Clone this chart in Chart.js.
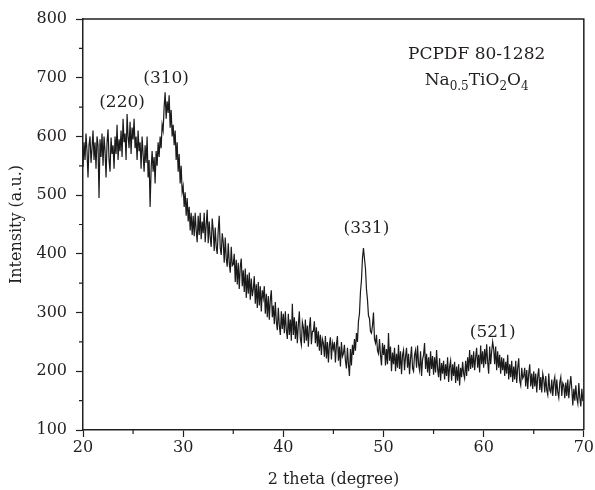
<!DOCTYPE html>
<html>
<head>
<meta charset="utf-8">
<script src="https://cdn.jsdelivr.net/npm/chart.js@4.4.1/dist/chart.umd.min.js"></script>
<style>
body { margin: 0; background: #fff; }
</style>
</head>
<body>
<canvas id="xrdChart" width="595" height="490"></canvas>
<script>
// scan: 20 -> 70 deg, 0.1 deg step, intensity
var scanStart = 20;
var scanStep = 0.1;

var int20 = [
    548, 590, 560, 605, 575, 530, 585, 600, 555, 580,
    610, 560, 590, 545, 600, 585, 495, 595, 565, 605,
    550, 600, 575, 530, 590, 612, 560, 540, 598, 570,
    585, 545, 600, 570, 620, 560, 595, 575, 610, 565,
    630, 590, 605, 560, 638, 600, 580, 625, 570, 615,
    595, 630, 580, 600, 560, 610, 575, 590, 545, 600,
    570, 540, 585, 555, 600, 530, 560, 480, 545, 575,
    540, 565, 520, 575, 550, 590, 565, 600, 580, 620,
    610, 650, 675, 630, 660, 640, 670, 615, 645, 600,
    620, 585, 610, 560, 590, 540, 570, 520, 550, 505
];
var int30 = [
    515, 480, 505, 465, 495, 455, 480, 440, 470, 432,
    465, 430, 470, 440, 420, 465, 432, 470, 425, 455,
    435, 470, 420, 450, 475, 418, 455, 428, 412, 460,
    440, 405, 445, 412, 400, 440, 465, 410, 398, 435,
    420, 385, 428, 392, 378, 418, 385, 368, 412, 380,
    382, 400, 352, 390, 348, 385, 340, 378, 392, 345,
    372, 335, 375, 325, 365, 332, 368, 322, 358, 328,
    340, 362, 315, 348, 308, 352, 312, 345, 302, 338,
    325, 345, 298, 332, 292, 328, 288, 322, 338, 292,
    312, 280, 318, 285, 270, 308, 278, 262, 302, 272
];
var int40 = [
    298, 265, 302, 270, 255, 298, 262, 288, 252, 315,
    262, 292, 255, 285, 248, 280, 302, 255, 245, 284,
    275, 248, 288, 252, 278, 242, 275, 292, 246, 268,
    268, 285, 248, 275, 242, 268, 235, 262, 228, 255,
    248, 225, 260, 222, 250, 215, 245, 258, 220, 248,
    238, 250, 215, 245, 260, 218, 242, 208, 250, 225,
    230, 245, 218, 205, 240, 212, 192, 238, 210, 245,
    228, 255, 235, 265, 250, 285, 298, 335, 355, 392,
    410, 392, 375, 340, 322, 295, 290, 268, 265, 278,
    300, 255, 248, 262, 235, 230, 255, 228, 210, 248
];
var int50 = [
    228, 245, 210, 238, 212, 265, 218, 242, 200, 232,
    212, 240, 200, 230, 206, 245, 204, 234, 195, 228,
    236, 202, 225, 240, 206, 230, 195, 222, 242, 205,
    200, 228, 236, 206, 244, 212, 202, 234, 192, 220,
    228, 248, 204, 230, 198, 224, 192, 234, 204, 226,
    194, 224, 198, 236, 204, 190, 222, 184, 214, 196,
    218, 186, 212, 192, 224, 182, 208, 218, 184, 212,
    192, 216, 180, 208, 184, 212, 176, 206, 190, 216,
    196, 188, 218, 192, 224, 200, 236, 204, 228, 206,
    234, 202, 224, 240, 206, 228, 198, 244, 212, 234
];
var int60 = [
    206, 238, 212, 246, 216, 196, 242, 212, 234, 250,
    238, 212, 242, 202, 234, 206, 228, 196, 224, 202,
    222, 192, 216, 196, 228, 186, 212, 190, 218, 182,
    208, 186, 218, 180, 206, 222, 184, 176, 206, 188,
    192, 206, 174, 202, 170, 196, 212, 174, 196, 170,
    200, 174, 196, 164, 192, 205, 168, 190, 164, 196,
    186, 164, 192, 168, 160, 196, 168, 164, 186, 158,
    181, 190, 158, 186, 164, 155, 181, 190, 158, 180,
    176, 154, 181, 158, 186, 154, 176, 192, 170, 142,
    170, 150, 176, 154, 145, 180, 154, 140, 170, 150,
    150
];

var peakLabels = ['(220)', '(310)', '(331)', '(521)'];
var peakX = [23.9, 28.3, 48.3, 60.9];
var peakY = [650, 691, 435, 258];

var xTicks = [20, 30, 40, 50, 60, 70];
var yTicks = [100, 200, 300, 400, 500, 600, 700, 800];

var intensity = int20.concat(int30, int40, int50, int60);
var points = intensity.map(function (v, i) {
    return { x: +(scanStart + i * scanStep).toFixed(1), y: v };
});

var serif = "'DejaVu Serif', serif";
var ink = '#231f20';

// minor ticks + top/right frame + annotations
var extras = {
    id: 'extras',
    afterDraw: function (chart) {
        var ctx = chart.ctx;
        var a = chart.chartArea;
        var xs = chart.scales.x, ys = chart.scales.y;
        ctx.save();
        ctx.strokeStyle = ink;
        ctx.lineWidth = 1.5;
        ctx.beginPath();
        ctx.moveTo(a.left, a.top);
        ctx.lineTo(a.right, a.top);
        ctx.lineTo(a.right, a.bottom);
        ctx.stroke();

        ctx.lineWidth = 1.2;
        ctx.beginPath();
        for (var i = 0; i < yTicks.length - 1; i++) {
            var py = ys.getPixelForValue(yTicks[i] + 50);
            ctx.moveTo(a.left - 4, py);
            ctx.lineTo(a.left, py);
        }
        for (var j = 0; j < xTicks.length - 1; j++) {
            var px = xs.getPixelForValue(xTicks[j] + 5);
            ctx.moveTo(px, a.bottom);
            ctx.lineTo(px, a.bottom + 4);
        }
        ctx.stroke();

        ctx.fillStyle = ink;
        ctx.font = '17px ' + serif;
        ctx.textAlign = 'center';
        ctx.textBaseline = 'alphabetic';
        peakLabels.forEach(function (t, k) {
            ctx.fillText(t, xs.getPixelForValue(peakX[k]), ys.getPixelForValue(peakY[k]));
        });

        var cx = xs.getPixelForValue(59.3);
        ctx.fillText('PCPDF 80-1282', cx, ys.getPixelForValue(732));

        // Na0.5TiO2O4 with subscripts
        var parts = [['Na', 0], ['0.5', 1], ['TiO', 0], ['2', 1], ['O', 0], ['4', 1]];
        var big = '17px ' + serif, small = '12px ' + serif;
        var total = 0;
        parts.forEach(function (p) {
            ctx.font = p[1] ? small : big;
            total += ctx.measureText(p[0]).width;
        });
        var base = ys.getPixelForValue(688);
        var sx = cx - total / 2;
        ctx.textAlign = 'left';
        parts.forEach(function (p) {
            ctx.font = p[1] ? small : big;
            ctx.fillText(p[0], sx, p[1] ? base + 5 : base);
            sx += ctx.measureText(p[0]).width;
        });
        ctx.restore();
    }
};

var xrdChart = new Chart(
    document.getElementById('xrdChart'), {
    type: 'line',
    data: {
        datasets: [{
            data: points,
            borderColor: '#1a1a1a',
            borderWidth: 1.2,
            pointRadius: 0,
            tension: 0,
            fill: false
        }]
    },
    options: {
        responsive: false,
        animation: false,
        layout: {
            padding: { top: 19, right: 10, left: 0, bottom: 0 }
        },
        plugins: {
            legend: { display: false },
            tooltip: { enabled: false }
        },
        scales: {
            x: {
                type: 'linear',
                min: 20,
                max: 70,
                afterFit: function (scale) { scale.height = 60; },
                afterBuildTicks: function (scale) {
                    scale.ticks = xTicks.map(function (v) { return { value: v }; });
                },
                ticks: {
                    color: ink,
                    font: { family: serif, size: 16 },
                    padding: 1,
                    maxRotation: 0
                },
                grid: {
                    drawOnChartArea: false,
                    tickLength: 7,
                    tickWidth: 1.2,
                    color: ink
                },
                border: { color: ink, width: 1.5 },
                title: {
                    display: true,
                    text: '2 theta (degree)',
                    color: ink,
                    font: { family: serif, size: 16 },
                    padding: { top: 0, bottom: 1 }
                }
            },
            y: {
                min: 100,
                max: 800,
                afterFit: function (scale) { scale.width = 83; },
                afterBuildTicks: function (scale) {
                    scale.ticks = yTicks.map(function (v) { return { value: v }; });
                },
                ticks: {
                    color: ink,
                    font: { family: serif, size: 16 },
                    padding: 9
                },
                grid: {
                    drawOnChartArea: false,
                    tickLength: 7,
                    tickWidth: 1.2,
                    color: ink
                },
                border: { color: ink, width: 1.5 },
                title: {
                    display: true,
                    text: 'Intensity (a.u.)',
                    color: ink,
                    font: { family: serif, size: 16 },
                    padding: { top: 7, bottom: 0 }
                }
            }
        }
    },
    plugins: [extras]
});
</script>
</body>
</html>
